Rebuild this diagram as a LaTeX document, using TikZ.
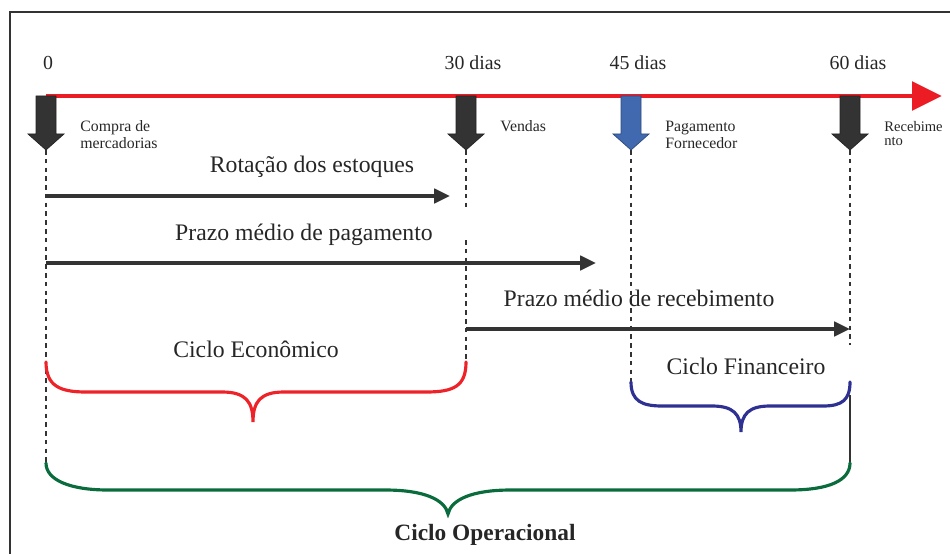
\documentclass[tikz,border=0pt]{standalone}
\usepackage{fontspec}
\setmainfont{Liberation Serif}
\usetikzlibrary{arrows.meta,positioning}

\definecolor{eixo}{HTML}{EC1C24}
\definecolor{cinza}{HTML}{333333}
\definecolor{texto}{HTML}{262626}
\definecolor{azulbloco}{HTML}{4169B0}
\definecolor{chavevermelha}{HTML}{EE2229}
\definecolor{chaveazul}{HTML}{2E3192}
\definecolor{chaveverde}{HTML}{0A6B3C}

\tikzset{
  seta/.style={draw=cinza, line width=2.2pt, -{Triangle[length=9pt,width=8pt]}},
  tracejado/.style={draw=cinza, line width=0.85pt, dash pattern=on 2.6pt off 2.4pt},
  chave/.style={line width=1.8pt, line cap=round},
  rotulo/.style={font=\fontsize{13.5}{15}\selectfont, text=texto, inner sep=0pt, anchor=base},
  pequeno/.style={font=\fontsize{9}{10.5}\selectfont, text=texto, inner sep=0pt, anchor=base west},
  dia/.style={font=\fontsize{11.3}{13}\selectfont, text=texto, inner sep=0pt, anchor=base}
}

\begin{document}
\begin{tikzpicture}[x=0.02cm, y=-0.02cm]
  \useasboundingbox (0,0) rectangle (950,554);
  % moldura
  \draw[cinza, line width=1.2pt] (10,554) -- (10,12) -- (950,12);

  % eixo do tempo
  \coordinate (ax0) at (46,96);
  \coordinate (ax1) at (942,96);
  \draw[eixo, line width=2.8pt, -{Triangle[length=17pt,width=16pt]}] (ax0) -- (ax1);

  \node[dia] (n0) at (48,70) {0};
  \node[dia] (n30) at (473,70) {30 dias};
  \node[dia] (n45) at (638,70) {45 dias};
  \node[dia] (n60) at (858,70) {60 dias};

  % setas de bloco
  \foreach \x/\cor in {46/cinza,466/cinza,631/azulbloco,850/cinza}
    \filldraw[fill=\cor, draw=\cor!70!black, line width=0.4pt]
      (\x-10,96) -- (\x+10,96) -- (\x+10,134) -- (\x+18,134)
      -- (\x,150) -- (\x-18,134) -- (\x-10,134) -- cycle;

  \node[pequeno] (lcompra) at (80,132) {Compra de};
  \node[pequeno] (lmerc) at (80,149) {mercadorias};
  \node[pequeno] (lvendas) at (500,132) {Vendas};
  \node[pequeno] (lpagto) at (665,132) {Pagamento};
  \node[pequeno] (lforn) at (665,149) {Fornecedor};
  \node[pequeno, font=\fontsize{8.3}{9.5}\selectfont] (lreceb) at (884,132) {Recebime};
  \node[pequeno, font=\fontsize{8.3}{9.5}\selectfont] (lnto) at (884,146) {nto};

  % linhas tracejadas
  \draw[tracejado] (46,150) -- (46,463);
  \draw[tracejado] (466,150) -- (466,208);
  \draw[tracejado] (466,240) -- (466,362);
  \draw[tracejado] (631,150) -- (631,384);
  \draw[tracejado] (850,150) -- (850,345);
  \draw[cinza, line width=0.9pt] (850,395) -- (850,463);

  % prazos
  \node[rotulo] (lrot) at (312,173) {Rotação dos estoques};
  \coordinate (ra) at (46,196);
  \coordinate (rb) at (450,196);
  \draw[seta] (ra) -- (rb);

  \node[rotulo] (lpmp) at (304,240) {Prazo médio de pagamento};
  \coordinate (pa) at (46,263);
  \coordinate (pb) at (596,263);
  \draw[seta] (pa) -- (pb);

  \node[rotulo] (lpmr) at (639,306) {Prazo médio de recebimento};
  \coordinate (qa) at (466,329);
  \coordinate (qb) at (850,329);
  \draw[seta] (qa) -- (qb);

  % ciclos
  \node[rotulo] (leco) at (256,357) {Ciclo Econômico};
  \draw[chave, chavevermelha] (46,362) .. controls (46,386) and (60,392) .. (86,392)
    -- (222,392) .. controls (246,392) and (253,402) .. (253,422)
    .. controls (253,402) and (260,392) .. (284,392)
    -- (426,392) .. controls (454,392) and (466,386) .. (466,362);

  \node[rotulo] (lfin) at (746,374) {Ciclo Financeiro};
  \draw[chave, chaveazul] (631,382) .. controls (631,401) and (642,406) .. (662,406)
    -- (712,406) .. controls (733,406) and (741,414) .. (741,432)
    .. controls (741,414) and (749,406) .. (770,406)
    -- (823,406) .. controls (842,406) and (850,400) .. (850,382);

  \draw[chave, chaveverde] (46,463) .. controls (46,480) and (70,490) .. (108,490)
    -- (385,490) .. controls (425,490) and (445,500) .. (448,514)
    .. controls (451,500) and (471,490) .. (511,490)
    -- (790,490) .. controls (830,490) and (850,480) .. (850,463);
  \node[rotulo, font=\bfseries\fontsize{13.3}{15}\selectfont] (lop) at (485,540) {Ciclo Operacional};
\end{tikzpicture}
\end{document}
